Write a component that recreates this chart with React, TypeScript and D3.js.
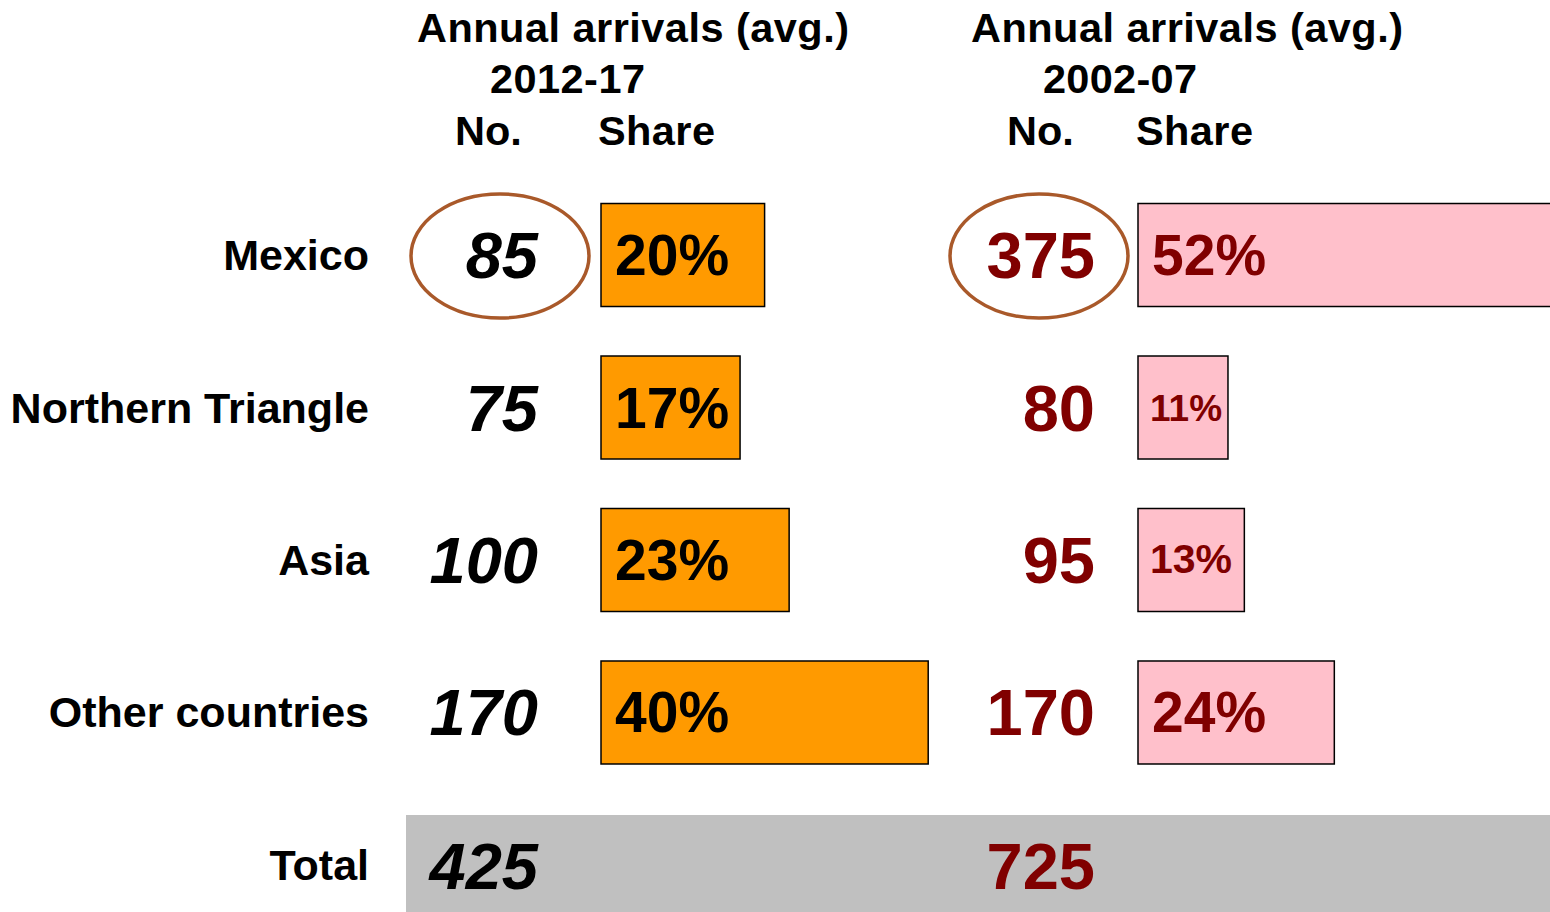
import React from "react";
import * as d3 from "d3";

const regions = ["Mexico", "Northern Triangle", "Asia", "Other countries"];
const arrivals2017 = [85, 75, 100, 170];
const share2017 = [20, 17, 23, 40];
const arrivals2007 = [375, 80, 95, 170];
const share2007 = [52, 11, 13, 24];
const totals = [425, 725];
const highlighted = ["Mexico"];

const W = 1550;
const H = 912;
const FONT = "'Liberation Sans', Arial, sans-serif";
const DARK_RED = "#800000";

const App = () => {
  // rows: 4 regions + total
  const rows = [...regions, "Total"];
  const y = d3.scaleBand().domain(rows).range([178, 942]).paddingInner(0.33).paddingOuter(0.17);
  const x = d3.scaleLinear().domain([0, 100]).range([0, 818]);

  const leftBar = 601;
  const rightBar = 1138;
  const leftNum = 538;
  const rightNum = 1095;
  const bh = 103;
  const cy = (r) => y(r) + y.bandwidth() / 2;

  return (
    <svg width={W} height={H} style={{ position: "absolute", left: 0, top: 0 }} fontFamily={FONT} fontWeight="bold">
      <rect width={W} height={H} fill="#fff" />

      {/* total band */}
      <rect x={406} y={815} width={W - 406} height={H - 815} fill="#c0c0c0" />

      {/* headers */}
      <g fontSize={41.5} fill="#000">
        <text x={417} y={42} textLength={432}>Annual arrivals (avg.)</text>
        <text x={490} y={93} textLength={155}>2012-17</text>
        <text x={455} y={145}>No.</text>
        <text x={598} y={145} textLength={117}>Share</text>
        <text x={971} y={42} textLength={432}>Annual arrivals (avg.)</text>
        <text x={1043} y={93} textLength={154}>2002-07</text>
        <text x={1007} y={145}>No.</text>
        <text x={1136} y={145} textLength={117}>Share</text>
      </g>

      {/* row labels */}
      {rows.map((r) => (
        <text key={r} x={369} y={cy(r) + 15} fontSize={43} textAnchor="end" fill="#000">
          {r}
        </text>
      ))}

      {/* 2012-17 bars */}
      {regions.map((r, i) => (
        <g key={"l" + r}>
          <rect x={leftBar} y={cy(r) - bh / 2} width={x(share2017[i])} height={bh} fill="#ff9a00" stroke="#000" strokeWidth={1.5} />
          <text x={615} y={cy(r) + 20} fontSize={57} fill="#000">{share2017[i]}%</text>
        </g>
      ))}

      {/* 2002-07 bars */}
      {regions.map((r, i) => {
        const small = share2007[i] < 15;
        return (
          <g key={"r" + r}>
            <rect x={rightBar} y={cy(r) - bh / 2} width={Math.min(x(share2007[i]), W - rightBar + 2)} height={bh} fill="#ffc0cb" stroke="#000" strokeWidth={1.5} />
            <text x={small ? 1150 : 1152} y={cy(r) + (small ? 13 : 20)} fontSize={small ? (share2007[i] < 12 ? 37 : 41) : 57} fill={DARK_RED}>
              {share2007[i]}%
            </text>
          </g>
        );
      })}

      {/* highlight ellipses */}
      {highlighted.map((r) => (
        <g key={"e" + r} fill="none" stroke="#a9592a" strokeWidth={3.5}>
          <ellipse cx={500} cy={cy(r) + 1} rx={89} ry={62} />
          <ellipse cx={1039} cy={cy(r) + 1} rx={89} ry={62} />
        </g>
      ))}

      {/* numbers */}
      {regions.map((r, i) => (
        <g key={"n" + r} fontSize={65}>
          <text x={leftNum} y={cy(r) + 23} textAnchor="end" fontStyle="italic" fill="#000">{arrivals2017[i]}</text>
          <text x={rightNum} y={cy(r) + 23} textAnchor="end" fill={DARK_RED}>{arrivals2007[i]}</text>
        </g>
      ))}
      <g fontSize={65}>
        <text x={leftNum} y={cy("Total") + 24} textAnchor="end" fontStyle="italic" fill="#000">{totals[0]}</text>
        <text x={rightNum} y={cy("Total") + 24} textAnchor="end" fill={DARK_RED}>{totals[1]}</text>
      </g>
    </svg>
  );
};

export default App;
